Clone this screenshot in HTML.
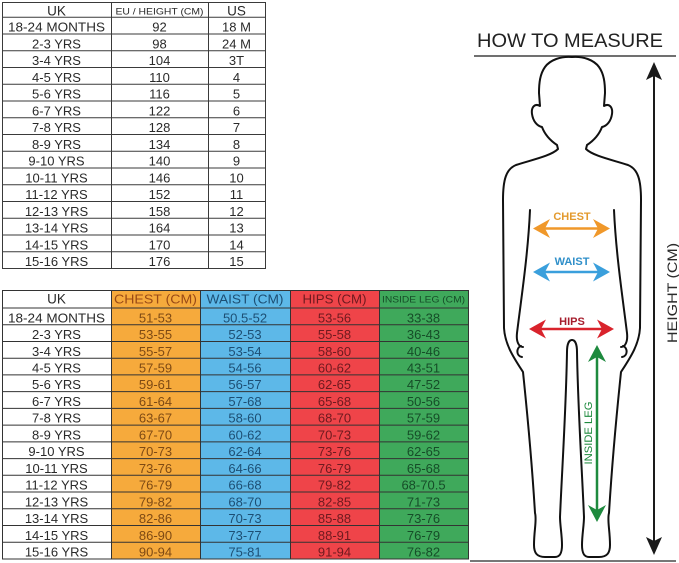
<!DOCTYPE html>
<html><head><meta charset="utf-8"><style>
html,body{margin:0;padding:0;background:#fff;}
svg{display:block;}
text{font-family:"Liberation Sans",sans-serif;}
</style></head><body>
<svg width="679" height="563" viewBox="0 0 679 563" xmlns="http://www.w3.org/2000/svg">
<rect width="679" height="563" fill="#fff"/>

<!-- TOP TABLE -->
<g stroke="#3a3a3a" stroke-width="1" fill="none">
<rect x="2.5" y="2.5" width="263" height="266"/>
<line x1="111.5" y1="2.5" x2="111.5" y2="268.5"/>
<line x1="208.5" y1="2.5" x2="208.5" y2="268.5"/>
<line x1="2.5" y1="17.3" x2="265.5" y2="17.3"/>
<line x1="2.5" y1="34.05" x2="265.5" y2="34.05"/>
<line x1="2.5" y1="50.8" x2="265.5" y2="50.8"/>
<line x1="2.5" y1="67.55" x2="265.5" y2="67.55"/>
<line x1="2.5" y1="84.3" x2="265.5" y2="84.3"/>
<line x1="2.5" y1="101.05" x2="265.5" y2="101.05"/>
<line x1="2.5" y1="117.8" x2="265.5" y2="117.8"/>
<line x1="2.5" y1="134.55" x2="265.5" y2="134.55"/>
<line x1="2.5" y1="151.3" x2="265.5" y2="151.3"/>
<line x1="2.5" y1="168.05" x2="265.5" y2="168.05"/>
<line x1="2.5" y1="184.8" x2="265.5" y2="184.8"/>
<line x1="2.5" y1="201.55" x2="265.5" y2="201.55"/>
<line x1="2.5" y1="218.3" x2="265.5" y2="218.3"/>
<line x1="2.5" y1="235.05" x2="265.5" y2="235.05"/>
<line x1="2.5" y1="251.8" x2="265.5" y2="251.8"/>
</g>
<g fill="#2a2a2a" font-size="13" text-anchor="middle">
<text x="56.5" y="15.7" font-size="13.5">UK</text>
<text x="159.5" y="14.5" font-size="9" textLength="88" lengthAdjust="spacingAndGlyphs">EU / HEIGHT (CM)</text>
<text x="236.5" y="15.7" font-size="13.5">US</text>

<text x="56.5" y="31.6" textLength="97" lengthAdjust="spacingAndGlyphs">18-24 MONTHS</text><text x="159.5" y="31.6">92</text><text x="236.5" y="31.6">18 M</text>
<text x="56.5" y="48.35">2-3 YRS</text><text x="159.5" y="48.35">98</text><text x="236.5" y="48.35">24 M</text>
<text x="56.5" y="65.1">3-4 YRS</text><text x="159.5" y="65.1">104</text><text x="236.5" y="65.1">3T</text>
<text x="56.5" y="81.85">4-5 YRS</text><text x="159.5" y="81.85">110</text><text x="236.5" y="81.85">4</text>
<text x="56.5" y="98.6">5-6 YRS</text><text x="159.5" y="98.6">116</text><text x="236.5" y="98.6">5</text>
<text x="56.5" y="115.35">6-7 YRS</text><text x="159.5" y="115.35">122</text><text x="236.5" y="115.35">6</text>
<text x="56.5" y="132.1">7-8 YRS</text><text x="159.5" y="132.1">128</text><text x="236.5" y="132.1">7</text>
<text x="56.5" y="148.85">8-9 YRS</text><text x="159.5" y="148.85">134</text><text x="236.5" y="148.85">8</text>
<text x="56.5" y="165.6">9-10 YRS</text><text x="159.5" y="165.6">140</text><text x="236.5" y="165.6">9</text>
<text x="56.5" y="182.35">10-11 YRS</text><text x="159.5" y="182.35">146</text><text x="236.5" y="182.35">10</text>
<text x="56.5" y="199.1">11-12 YRS</text><text x="159.5" y="199.1">152</text><text x="236.5" y="199.1">11</text>
<text x="56.5" y="215.85">12-13 YRS</text><text x="159.5" y="215.85">158</text><text x="236.5" y="215.85">12</text>
<text x="56.5" y="232.6">13-14 YRS</text><text x="159.5" y="232.6">164</text><text x="236.5" y="232.6">13</text>
<text x="56.5" y="249.35">14-15 YRS</text><text x="159.5" y="249.35">170</text><text x="236.5" y="249.35">14</text>
<text x="56.5" y="266.1">15-16 YRS</text><text x="159.5" y="266.1">176</text><text x="236.5" y="266.1">15</text>
</g>

<!-- BOTTOM TABLE -->
<rect x="111" y="290" width="89" height="269" fill="#f6aa3c"/>
<rect x="200" y="290" width="90" height="269" fill="#5db8e8"/>
<rect x="290" y="290" width="89" height="269" fill="#ef4449"/>
<rect x="379" y="290" width="89" height="269" fill="#3fa95b"/>
<g stroke="#333" stroke-width="1" fill="none">
<rect x="2.5" y="290.5" width="466" height="268.5"/>
<line x1="111.5" y1="290.5" x2="111.5" y2="559"/>
<line x1="200.5" y1="290.5" x2="200.5" y2="559"/>
<line x1="290.5" y1="290.5" x2="290.5" y2="559"/>
<line x1="379.5" y1="290.5" x2="379.5" y2="559"/>
<line x1="2.5" y1="308" x2="468.5" y2="308"/>
<line x1="2.5" y1="324.73" x2="468.5" y2="324.73"/>
<line x1="2.5" y1="341.46" x2="468.5" y2="341.46"/>
<line x1="2.5" y1="358.19" x2="468.5" y2="358.19"/>
<line x1="2.5" y1="374.92" x2="468.5" y2="374.92"/>
<line x1="2.5" y1="391.65" x2="468.5" y2="391.65"/>
<line x1="2.5" y1="408.38" x2="468.5" y2="408.38"/>
<line x1="2.5" y1="425.11" x2="468.5" y2="425.11"/>
<line x1="2.5" y1="441.84" x2="468.5" y2="441.84"/>
<line x1="2.5" y1="458.57" x2="468.5" y2="458.57"/>
<line x1="2.5" y1="475.3" x2="468.5" y2="475.3"/>
<line x1="2.5" y1="492.03" x2="468.5" y2="492.03"/>
<line x1="2.5" y1="508.76" x2="468.5" y2="508.76"/>
<line x1="2.5" y1="525.49" x2="468.5" y2="525.49"/>
<line x1="2.5" y1="542.22" x2="468.5" y2="542.22"/>
</g>
<g font-size="13" text-anchor="middle">
<text x="56.5" y="303.5" fill="#2a2a2a" font-size="13.5">UK</text>
<text x="155.5" y="303.5" fill="#9a4a16" textLength="83" lengthAdjust="spacingAndGlyphs">CHEST (CM)</text>
<text x="245" y="303.5" fill="#1d4f74" textLength="77" lengthAdjust="spacingAndGlyphs">WAIST (CM)</text>
<text x="334.5" y="303.5" fill="#6e1a1f" textLength="64" lengthAdjust="spacingAndGlyphs">HIPS (CM)</text>
<text x="423.5" y="302.5" fill="#164d28" font-size="9.5" textLength="83" lengthAdjust="spacingAndGlyphs">INSIDE LEG (CM)</text>
</g>
<g font-size="13" text-anchor="middle" fill="#2a2a2a">
<text x="56.5" y="322.3" textLength="97" lengthAdjust="spacingAndGlyphs">18-24 MONTHS</text>
<text x="56.5" y="339.03">2-3 YRS</text>
<text x="56.5" y="355.76">3-4 YRS</text>
<text x="56.5" y="372.49">4-5 YRS</text>
<text x="56.5" y="389.22">5-6 YRS</text>
<text x="56.5" y="405.95">6-7 YRS</text>
<text x="56.5" y="422.68">7-8 YRS</text>
<text x="56.5" y="439.41">8-9 YRS</text>
<text x="56.5" y="456.14">9-10 YRS</text>
<text x="56.5" y="472.87">10-11 YRS</text>
<text x="56.5" y="489.6">11-12 YRS</text>
<text x="56.5" y="506.33">12-13 YRS</text>
<text x="56.5" y="523.06">13-14 YRS</text>
<text x="56.5" y="539.79">14-15 YRS</text>
<text x="56.5" y="556.52">15-16 YRS</text>
</g>
<g font-size="13" text-anchor="middle" fill="#7e4a14">
<text x="155.5" y="322.3">51-53</text>
<text x="155.5" y="339.03">53-55</text>
<text x="155.5" y="355.76">55-57</text>
<text x="155.5" y="372.49">57-59</text>
<text x="155.5" y="389.22">59-61</text>
<text x="155.5" y="405.95">61-64</text>
<text x="155.5" y="422.68">63-67</text>
<text x="155.5" y="439.41">67-70</text>
<text x="155.5" y="456.14">70-73</text>
<text x="155.5" y="472.87">73-76</text>
<text x="155.5" y="489.6">76-79</text>
<text x="155.5" y="506.33">79-82</text>
<text x="155.5" y="523.06">82-86</text>
<text x="155.5" y="539.79">86-90</text>
<text x="155.5" y="556.52">90-94</text>
</g>
<g font-size="13" text-anchor="middle" fill="#1d4f74">
<text x="245" y="322.3">50.5-52</text>
<text x="245" y="339.03">52-53</text>
<text x="245" y="355.76">53-54</text>
<text x="245" y="372.49">54-56</text>
<text x="245" y="389.22">56-57</text>
<text x="245" y="405.95">57-68</text>
<text x="245" y="422.68">58-60</text>
<text x="245" y="439.41">60-62</text>
<text x="245" y="456.14">62-64</text>
<text x="245" y="472.87">64-66</text>
<text x="245" y="489.6">66-68</text>
<text x="245" y="506.33">68-70</text>
<text x="245" y="523.06">70-73</text>
<text x="245" y="539.79">73-77</text>
<text x="245" y="556.52">75-81</text>
</g>
<g font-size="13" text-anchor="middle" fill="#6e1a1f">
<text x="334.5" y="322.3">53-56</text>
<text x="334.5" y="339.03">55-58</text>
<text x="334.5" y="355.76">58-60</text>
<text x="334.5" y="372.49">60-62</text>
<text x="334.5" y="389.22">62-65</text>
<text x="334.5" y="405.95">65-68</text>
<text x="334.5" y="422.68">68-70</text>
<text x="334.5" y="439.41">70-73</text>
<text x="334.5" y="456.14">73-76</text>
<text x="334.5" y="472.87">76-79</text>
<text x="334.5" y="489.6">79-82</text>
<text x="334.5" y="506.33">82-85</text>
<text x="334.5" y="523.06">85-88</text>
<text x="334.5" y="539.79">88-91</text>
<text x="334.5" y="556.52">91-94</text>
</g>
<g font-size="13" text-anchor="middle" fill="#164d28">
<text x="423.5" y="322.3">33-38</text>
<text x="423.5" y="339.03">36-43</text>
<text x="423.5" y="355.76">40-46</text>
<text x="423.5" y="372.49">43-51</text>
<text x="423.5" y="389.22">47-52</text>
<text x="423.5" y="405.95">50-56</text>
<text x="423.5" y="422.68">57-59</text>
<text x="423.5" y="439.41">59-62</text>
<text x="423.5" y="456.14">62-65</text>
<text x="423.5" y="472.87">65-68</text>
<text x="423.5" y="489.6">68-70.5</text>
<text x="423.5" y="506.33">71-73</text>
<text x="423.5" y="523.06">73-76</text>
<text x="423.5" y="539.79">76-79</text>
<text x="423.5" y="556.52">76-82</text>
</g>

<!-- HOW TO MEASURE -->
<text x="477" y="47" font-size="19.5" fill="#222" textLength="186" lengthAdjust="spacingAndGlyphs">HOW TO MEASURE</text>
<line x1="474" y1="56" x2="676" y2="56" stroke="#707070" stroke-width="2"/>
<line x1="470" y1="561" x2="676" y2="561" stroke="#777" stroke-width="2"/>

<!-- Figure -->
<g fill="none" stroke="#111" stroke-width="2" stroke-linejoin="round" stroke-linecap="round">
<g id="half">
<path d="M572,57 C561,56 550,60 545,67 C540,74 539,83 539,93 L540,106 C535,103 531,107 532,114 C533,121 537,126 542,127 C545,135 551,141 557,145 L558,149 C551,156 531,160 516,165 C506,169 503,180 503,200 L504,328 C505,345 514,358 523,372 C528,420 533,480 535,513 C537,520 534,530 534,545 C534,553 537,557 545,557 L555,557 C560,557 562,553 562,545 C562,535 560,525 560,517 C562,470 566,410 567,352 C567,344 569,340 572,340"/>
<path d="M530,210 C528,255 521,300 517,333 C516,342 519,347 523,347"/>
<path d="M521,346 C516,348 516,356 522,357"/>
</g>
<g transform="translate(1144,0) scale(-1,1)">
<path d="M572,57 C561,56 550,60 545,67 C540,74 539,83 539,93 L540,106 C535,103 531,107 532,114 C533,121 537,126 542,127 C545,135 551,141 557,145 L558,149 C551,156 531,160 516,165 C506,169 503,180 503,200 L504,328 C505,345 514,358 523,372 C528,420 533,480 535,513 C537,520 534,530 534,545 C534,553 537,557 545,557 L555,557 C560,557 562,553 562,545 C562,535 560,525 560,517 C562,470 566,410 567,352 C567,344 569,340 572,340"/>
<path d="M530,210 C528,255 521,300 517,333 C516,342 519,347 523,347"/>
<path d="M521,346 C516,348 516,356 522,357"/>
</g>
</g>

<!-- CHEST -->
<text x="572" y="220" font-size="11" font-weight="bold" fill="#e39a2e" text-anchor="middle">CHEST</text>
<line x1="542" y1="228.5" x2="601" y2="228.5" stroke="#f0982a" stroke-width="2.5"/>
<path d="M533,228.5 L550,219 L545,228.5 L550,238 Z" fill="#f0982a"/>
<path d="M610,228.5 L593,219 L598,228.5 L593,238 Z" fill="#f0982a"/>
<!-- WAIST -->
<text x="572" y="265" font-size="11" font-weight="bold" fill="#2f8fc9" text-anchor="middle">WAIST</text>
<line x1="542" y1="272" x2="601" y2="272" stroke="#3a9fdc" stroke-width="2.5"/>
<path d="M533,272 L550,262.5 L545,272 L550,281.5 Z" fill="#3a9fdc"/>
<path d="M610,272 L593,262.5 L598,272 L593,281.5 Z" fill="#3a9fdc"/>
<!-- HIPS -->
<text x="572" y="325" font-size="11" font-weight="bold" fill="#a61d2d" text-anchor="middle">HIPS</text>
<line x1="538" y1="329" x2="605" y2="329" stroke="#d9232c" stroke-width="2.5"/>
<path d="M529,329 L546,319.5 L541,329 L546,338.5 Z" fill="#d9232c"/>
<path d="M614,329 L597,319.5 L602,329 L597,338.5 Z" fill="#d9232c"/>
<!-- INSIDE LEG -->
<line x1="597" y1="352" x2="597" y2="515" stroke="#1e8a3e" stroke-width="2.5"/>
<path d="M597,345 L588,362 L597,357 L606,362 Z" fill="#1e8a3e"/>
<path d="M597,522 L588,505 L597,510 L606,505 Z" fill="#1e8a3e"/>
<text transform="translate(592,433) rotate(-90)" font-size="11" fill="#1e8a3e" text-anchor="middle" textLength="63" lengthAdjust="spacingAndGlyphs">INSIDE LEG</text>
<!-- HEIGHT -->
<line x1="654" y1="70" x2="654" y2="547" stroke="#1a1a1a" stroke-width="2"/>
<path d="M654,62 L646,80 L654,76 L662,80 Z" fill="#1a1a1a"/>
<path d="M654,555 L646,537 L654,541 L662,537 Z" fill="#1a1a1a"/>
<text transform="translate(677,293) rotate(-90)" font-size="14" fill="#2a2a2a" text-anchor="middle" textLength="100" lengthAdjust="spacingAndGlyphs">HEIGHT (CM)</text>
</svg>
</body></html>
